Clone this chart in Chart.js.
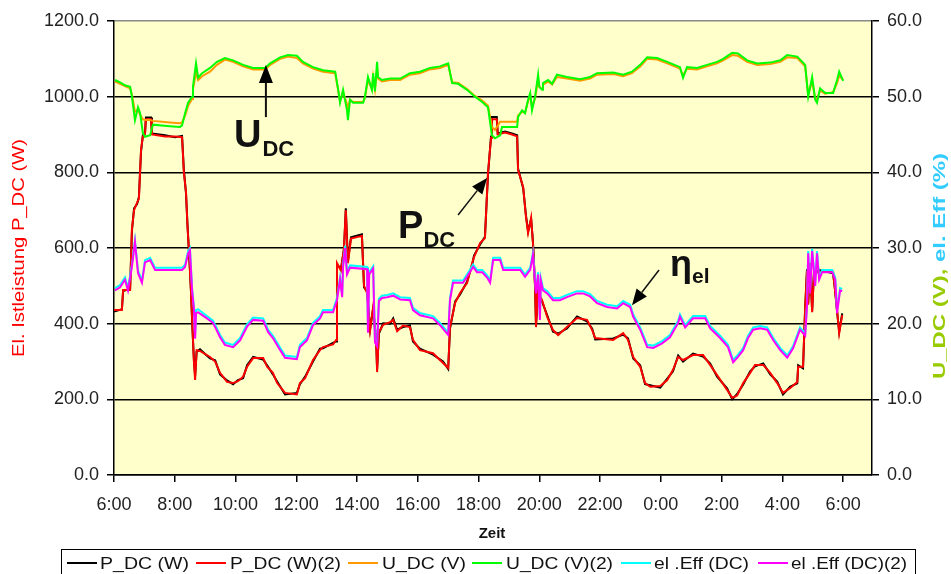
<!DOCTYPE html>
<html><head><meta charset="utf-8">
<script src="https://cdn.jsdelivr.net/npm/chart.js@4.4.0/dist/chart.umd.min.js"></script>
<style>html,body{margin:0;padding:0;background:#fff;}canvas{display:block;}</style>
</head><body>
<canvas id="c" width="951" height="574"></canvas>
<script>
// ---- time axis (hours from 6:00, 24 = midnight) ----
const xTickValues = [6, 8, 10, 12, 14, 16, 18, 20, 22, 24, 26, 28, 30];
const xTickLabels = ['6:00','8:00','10:00','12:00','14:00','16:00','18:00','20:00','22:00','0:00','2:00','4:00','6:00'];
const seriesLabels = ['P_DC (W)','P_DC (W)(2)','U_DC (V)','U_DC (V)(2)','el .Eff (DC)','el .Eff (DC)(2)'];

// ---- power series (left axis, W) ----
const tP = [6.00, 6.26, 6.30, 6.53, 6.59, 6.66, 6.76, 6.82, 6.89, 6.95,
 7.02, 7.05, 7.22, 7.25, 7.68, 8.01, 8.24, 8.30, 8.37, 8.42,
 8.47, 8.53, 8.58, 8.63, 8.67, 8.72, 8.83, 9.16, 9.33, 9.49,
 9.72, 9.92, 10.08, 10.25, 10.38, 10.58, 10.91, 11.04, 11.23, 11.37,
 11.63, 12.02, 12.12, 12.29, 12.55, 12.78, 12.88, 13.21, 13.31, 13.34,
 13.47, 13.57, 13.63, 13.70, 13.80, 14.16, 14.23, 14.33, 14.43, 14.53,
 14.63, 14.66, 14.72, 14.86, 15.09, 15.19, 15.32, 15.51, 15.74, 15.84,
 16.07, 16.50, 16.83, 17.00, 17.06, 17.23, 17.39, 17.62, 17.79, 17.85,
 18.05, 18.21, 18.31, 18.41, 18.44, 18.60, 18.63, 18.87, 19.10, 19.27,
 19.30, 19.47, 19.56, 19.63, 19.73, 19.79, 19.86, 19.89, 19.96, 20.09,
 20.26, 20.45, 20.62, 20.91, 21.24, 21.57, 21.74, 21.84, 22.43, 22.76,
 22.92, 23.09, 23.32, 23.48, 23.65, 23.98, 24.21, 24.40, 24.57, 24.73,
 25.06, 25.39, 25.62, 25.85, 26.18, 26.35, 26.51, 26.71, 26.94, 27.10,
 27.37, 27.60, 27.83, 28.02, 28.26, 28.49, 28.52, 28.68, 28.75, 28.81,
 28.85, 28.91, 28.98, 29.04, 29.24, 29.67, 29.74, 29.81, 29.87, 29.97];
const pDC = [432, 438, 486, 492, 645, 705, 716, 735, 855, 898,
 903, 945, 945, 903, 898, 893, 896, 805, 744, 660,
 586, 494, 390, 305, 262, 326, 332, 308, 303, 266,
 250, 240, 251, 256, 290, 312, 305, 290, 266, 247,
 213, 217, 240, 260, 300, 334, 335, 349, 353, 556,
 545, 596, 705, 565, 628, 636, 496, 485, 386, 440,
 354, 280, 374, 401, 400, 414, 384, 391, 395, 353,
 334, 318, 300, 280, 387, 459, 477, 511, 556, 580,
 609, 630, 794, 895, 946, 946, 903, 908, 903, 898,
 810, 757, 686, 644, 676, 617, 496, 395, 485, 458,
 422, 379, 374, 387, 419, 406, 387, 358, 361, 371,
 361, 308, 290, 240, 237, 231, 255, 274, 316, 300,
 321, 313, 295, 260, 229, 200, 214, 239, 274, 287,
 295, 266, 247, 213, 234, 242, 290, 282, 440, 544,
 454, 556, 434, 538, 541, 533, 485, 424, 379, 427];
const pDC2 = [436, 436, 489, 489, 650, 700, 720, 730, 860, 895,
 900, 940, 940, 900, 895, 895, 893, 800, 748, 655,
 590, 490, 395, 300, 251, 330, 328, 312, 300, 270,
 246, 243, 248, 260, 286, 309, 309, 286, 270, 243,
 217, 213, 243, 256, 304, 330, 338, 345, 357, 560,
 540, 600, 700, 560, 625, 632, 500, 481, 383, 444,
 350, 272, 378, 397, 404, 410, 380, 395, 391, 357,
 330, 322, 296, 283, 391, 455, 481, 507, 560, 576,
 613, 626, 798, 891, 940, 940, 900, 905, 900, 895,
 806, 761, 682, 640, 680, 613, 500, 391, 481, 462,
 418, 383, 370, 391, 415, 410, 383, 362, 357, 375,
 357, 312, 286, 243, 233, 235, 251, 278, 312, 304,
 317, 317, 291, 264, 225, 204, 210, 243, 270, 291,
 291, 270, 243, 217, 230, 246, 286, 286, 444, 540,
 450, 560, 430, 534, 537, 537, 481, 428, 375, 423];

// ---- voltage series (right axis, V) ----
const tU = [6.03, 6.20, 6.36, 6.53, 6.59, 6.69, 6.79, 6.86, 6.95, 7.02,
 7.19, 7.28, 7.84, 8.17, 8.24, 8.34, 8.44, 8.57, 8.60, 8.70,
 8.77, 8.90, 9.16, 9.39, 9.65, 9.92, 10.25, 10.58, 10.97, 11.14,
 11.47, 11.73, 12.02, 12.22, 12.55, 12.88, 13.28, 13.38, 13.44, 13.54,
 13.67, 13.70, 13.77, 13.87, 14.20, 14.26, 14.36, 14.49, 14.53, 14.59,
 14.66, 14.69, 14.82, 15.09, 15.42, 15.74, 16.07, 16.40, 16.73, 17.00,
 17.13, 17.33, 17.62, 17.88, 18.12, 18.31, 18.44, 18.54, 18.71, 18.77,
 19.27, 19.30, 19.43, 19.53, 19.63, 19.70, 19.76, 19.86, 19.96, 20.00,
 20.09, 20.12, 20.29, 20.42, 20.58, 20.91, 21.34, 21.67, 21.90, 22.43,
 22.76, 23.05, 23.32, 23.55, 23.88, 24.21, 24.63, 24.73, 24.86, 25.19,
 25.52, 25.85, 26.05, 26.35, 26.54, 26.84, 27.17, 27.60, 27.93, 28.16,
 28.49, 28.75, 28.85, 28.98, 29.08, 29.14, 29.24, 29.41, 29.67, 29.80,
 29.87, 30.00];
const uDC = [52.0, 51.7, 51.4, 51.1, 50.3, 48.0, 48.3, 47.6, 47.0, 46.9,
 46.9, 46.8, 46.6, 46.5, 46.6, 47.5, 48.8, 49.7, 51.0, 53.2,
 52.2, 52.7, 53.3, 54.2, 54.9, 54.6, 54.0, 53.6, 53.6, 54.2,
 55.0, 55.3, 55.1, 54.4, 53.7, 53.3, 53.1, 50.8, 49.4, 50.6,
 49.0, 48.5, 49.6, 49.3, 49.3, 49.9, 52.2, 51.0, 52.6, 51.0,
 53.8, 52.4, 52.0, 52.2, 52.2, 52.9, 53.1, 53.6, 53.8, 54.2,
 51.9, 51.8, 51.0, 50.1, 49.5, 48.8, 46.0, 45.6, 46.7, 46.7,
 46.7, 47.5, 48.0, 47.9, 49.4, 50.2, 48.6, 49.8, 52.3, 51.3,
 51.0, 51.6, 52.0, 51.6, 52.6, 52.4, 52.1, 52.4, 52.9, 53.0,
 52.7, 53.1, 54.0, 55.0, 54.9, 54.4, 53.7, 52.8, 53.7, 53.6,
 54.0, 54.4, 54.8, 55.5, 55.4, 54.6, 54.2, 54.3, 54.6, 55.2,
 55.1, 54.0, 50.3, 52.0, 49.8, 49.7, 50.8, 50.4, 50.6, 51.8,
 52.8, 52.2];
const uDC2 = [52.2, 51.9, 51.5, 51.3, 50.0, 46.9, 48.6, 47.8, 45.2, 44.7,
 44.9, 46.3, 46.1, 46.0, 46.2, 47.8, 49.2, 50.0, 51.3, 54.4,
 52.5, 53.1, 53.8, 54.6, 55.1, 54.8, 54.2, 53.8, 53.8, 54.4,
 55.2, 55.5, 55.4, 54.6, 53.9, 53.5, 53.3, 50.9, 49.2, 50.9,
 48.2, 46.9, 49.6, 49.2, 49.2, 50.0, 52.6, 50.9, 53.1, 50.7,
 54.6, 52.6, 52.2, 52.4, 52.4, 53.1, 53.3, 53.8, 54.0, 54.4,
 51.8, 51.7, 50.9, 50.0, 49.3, 48.6, 44.9, 44.5, 44.9, 46.0,
 46.0, 47.3, 48.2, 47.8, 49.6, 50.5, 48.2, 50.0, 52.9, 51.3,
 50.9, 51.8, 52.2, 51.7, 52.9, 52.6, 52.3, 52.6, 53.1, 53.2,
 52.9, 53.3, 54.2, 55.2, 55.1, 54.6, 53.9, 52.5, 53.9, 53.8,
 54.2, 54.6, 55.0, 55.8, 55.7, 54.8, 54.4, 54.5, 54.8, 55.5,
 55.3, 54.2, 50.0, 52.6, 49.6, 49.2, 51.1, 50.5, 50.5, 52.2,
 53.3, 52.1];

// ---- efficiency series (right axis, %) ----
const tE = [6.03, 6.20, 6.36, 6.46, 6.59, 6.69, 6.79, 6.92, 7.02, 7.19,
 7.35, 8.24, 8.34, 8.44, 8.50, 8.57, 8.63, 8.67, 8.70, 8.77,
 9.06, 9.26, 9.49, 9.65, 9.92, 10.15, 10.38, 10.58, 10.91, 11.07,
 11.23, 11.47, 11.63, 12.02, 12.12, 12.35, 12.55, 12.78, 12.88, 13.21,
 13.34, 13.44, 13.51, 13.54, 13.61, 13.67, 13.77, 14.33, 14.36, 14.40,
 14.53, 14.59, 14.66, 14.72, 14.82, 14.99, 15.19, 15.42, 15.74, 15.84,
 16.07, 16.50, 16.73, 17.00, 17.06, 17.16, 17.49, 17.62, 17.82, 17.95,
 18.12, 18.28, 18.38, 18.48, 18.71, 18.81, 19.37, 19.53, 19.70, 19.79,
 19.89, 19.96, 20.02, 20.05, 20.12, 20.26, 20.45, 20.68, 20.91, 21.24,
 21.44, 21.67, 21.90, 22.23, 22.56, 22.76, 22.99, 23.09, 23.32, 23.55,
 23.75, 24.04, 24.30, 24.57, 24.63, 24.80, 25.06, 25.46, 25.62, 25.95,
 26.21, 26.38, 26.54, 26.71, 26.87, 27.04, 27.27, 27.50, 27.70, 27.93,
 28.16, 28.35, 28.58, 28.75, 28.81, 28.85, 28.91, 28.98, 29.08, 29.14,
 29.21, 29.31, 29.64, 29.74, 29.80, 29.90, 29.97];
const eff = [24.7, 25.1, 26.1, 24.7, 27.8, 31.0, 27.0, 25.7, 28.4, 28.7,
 27.4, 27.4, 27.8, 29.6, 30.0, 24.7, 22.3, 18.5, 21.8, 21.9,
 21.0, 20.4, 18.5, 17.5, 17.2, 18.1, 19.9, 20.8, 20.7, 19.2,
 18.4, 16.8, 15.8, 15.6, 17.2, 18.1, 20.1, 21.0, 21.8, 21.8,
 23.4, 26.1, 23.8, 27.8, 30.3, 26.8, 27.7, 27.5, 19.2, 26.8,
 27.6, 17.9, 17.4, 23.3, 23.7, 23.8, 24.0, 23.5, 23.4, 22.1,
 21.4, 21.0, 20.1, 18.8, 23.4, 25.7, 25.7, 26.5, 27.8, 27.1,
 27.1, 26.4, 25.7, 28.7, 28.7, 27.4, 27.4, 26.5, 27.4, 29.4,
 24.3, 26.8, 20.9, 26.0, 24.7, 24.3, 23.4, 23.4, 23.8, 24.3,
 24.3, 23.9, 23.0, 22.5, 22.3, 23.0, 22.5, 21.2, 19.5, 17.2,
 17.1, 17.7, 18.5, 20.4, 21.2, 19.8, 21.0, 21.0, 19.7, 18.4,
 17.2, 15.2, 15.9, 16.8, 18.4, 19.5, 19.7, 19.5, 18.1, 16.8,
 15.8, 17.0, 19.5, 18.7, 22.5, 29.6, 24.3, 29.9, 25.3, 29.6,
 26.1, 27.1, 27.1, 26.1, 21.7, 24.7, 24.6];
const eff2 = [24.4, 24.8, 25.8, 24.4, 27.5, 30.8, 26.7, 25.4, 28.1, 28.4,
 27.1, 27.1, 27.5, 29.3, 29.7, 24.4, 22.0, 18.0, 21.4, 21.5,
 20.7, 20.1, 18.2, 17.2, 16.9, 17.8, 19.6, 20.5, 20.4, 18.9,
 18.1, 16.5, 15.5, 15.3, 16.9, 17.8, 19.8, 20.7, 21.5, 21.5,
 23.1, 25.8, 23.5, 27.5, 30.0, 26.5, 27.4, 27.2, 18.8, 26.5,
 27.3, 17.5, 17.0, 23.0, 23.4, 23.5, 23.7, 23.2, 23.1, 21.8,
 21.1, 20.7, 19.8, 18.5, 23.1, 25.4, 25.4, 26.2, 27.5, 26.8,
 26.8, 26.1, 25.4, 28.4, 28.4, 27.1, 27.1, 26.2, 27.1, 29.1,
 24.0, 26.5, 20.5, 25.7, 24.4, 24.0, 23.1, 23.1, 23.5, 24.0,
 24.0, 23.6, 22.7, 22.2, 22.0, 22.7, 22.2, 20.9, 19.2, 16.9,
 16.8, 17.4, 18.2, 20.1, 20.9, 19.5, 20.7, 20.7, 19.4, 18.1,
 16.9, 14.9, 15.6, 16.5, 18.1, 19.2, 19.4, 19.2, 17.8, 16.5,
 15.5, 16.7, 19.2, 18.4, 22.2, 29.3, 24.0, 29.6, 25.0, 29.3,
 25.8, 26.8, 26.8, 25.8, 21.4, 24.4, 24.3];

const FONT = '"Liberation Sans", Arial, Helvetica, sans-serif';
const COLORS = ['#000000', '#FF0000', '#FF9900', '#00FF00', '#00FFFF', '#FF00FF'];

function pts(t, v) { return t.map((x, i) => ({ x: x, y: v[i] })); }

function drawScaledText(ctx, text, x, y, targetW, align) {
  const w = ctx.measureText(text).width;
  const s = targetW / w;
  ctx.save();
  ctx.translate(x, y);
  ctx.scale(s, 1);
  ctx.textAlign = align || 'left';
  ctx.fillText(text, 0, 0);
  ctx.restore();
}

function arrow(ctx, x0, y0, x1, y1, lw, headLen, headW) {
  const ang = Math.atan2(y1 - y0, x1 - x0);
  const bx = x1 - headLen * Math.cos(ang), by = y1 - headLen * Math.sin(ang);
  ctx.save();
  ctx.strokeStyle = '#111'; ctx.fillStyle = '#000'; ctx.lineWidth = lw;
  ctx.beginPath(); ctx.moveTo(x0, y0); ctx.lineTo(bx, by); ctx.stroke();
  const nx = -Math.sin(ang) * headW / 2, ny = Math.cos(ang) * headW / 2;
  ctx.beginPath(); ctx.moveTo(x1, y1); ctx.lineTo(bx + nx, by + ny); ctx.lineTo(bx - nx, by - ny); ctx.closePath(); ctx.fill();
  ctx.restore();
}

const decor = {
  id: 'decor',
  beforeDraw(chart) {
    const { ctx, chartArea: a } = chart;
    ctx.save();
    ctx.fillStyle = '#FFFFCC';
    ctx.fillRect(a.left, a.top, a.right - a.left, a.bottom - a.top);
    ctx.restore();
  },
  afterDraw(chart) {
    const ctx = chart.ctx;
    const X = chart.scales.x, YL = chart.scales.yL;
    // left axis title
    ctx.save();
    ctx.translate(19, 248); ctx.rotate(-Math.PI / 2);
    ctx.font = '17px ' + FONT; ctx.fillStyle = '#FF0000'; ctx.textBaseline = 'middle';
    drawScaledText(ctx, 'El. Istleistung P_DC (W)', 0, 0, 218, 'center');
    ctx.restore();
    // right axis title (two colours)
    ctx.save();
    ctx.translate(941, 266); ctx.rotate(-Math.PI / 2);
    ctx.font = 'bold 16px ' + FONT; ctx.textBaseline = 'middle';
    const p1 = 'U_DC (V),', p2 = ' el. Eff (%)';
    const w1 = ctx.measureText(p1).width, w2 = ctx.measureText(p2).width;
    const s = 226 / (w1 + w2);
    ctx.scale(s, 1);
    ctx.textAlign = 'left';
    ctx.fillStyle = '#99CC00'; ctx.fillText(p1, -(w1 + w2) / 2, 0);
    ctx.fillStyle = '#33CCFF'; ctx.fillText(p2, -(w1 + w2) / 2 + w1, 0);
    ctx.restore();
    // x axis title
    ctx.save();
    ctx.font = 'bold 15px ' + FONT; ctx.fillStyle = '#111'; ctx.textAlign = 'center'; ctx.textBaseline = 'alphabetic';
    ctx.fillText('Zeit', 492, 538);
    ctx.restore();

    // annotations
    ctx.save();
    ctx.fillStyle = '#111'; ctx.textBaseline = 'alphabetic'; ctx.textAlign = 'left';
    // U_DC
    const ux = X.getPixelForValue(11.0);
    arrow(ctx, ux, YL.getPixelForValue(946), ux, YL.getPixelForValue(1084), 2, 18, 14);
    let tx = X.getPixelForValue(9.95);
    ctx.font = 'bold 38px ' + FONT; ctx.fillText('U', tx, YL.getPixelForValue(867));
    tx += ctx.measureText('U').width + 1;
    ctx.font = 'bold 22px ' + FONT; ctx.fillText('DC', tx, YL.getPixelForValue(843));
    // P_DC
    arrow(ctx, X.getPixelForValue(17.325), YL.getPixelForValue(687), X.getPixelForValue(18.28), YL.getPixelForValue(785), 1.5, 16, 13);
    tx = X.getPixelForValue(15.35);
    ctx.font = 'bold 38px ' + FONT; ctx.fillText('P', tx, YL.getPixelForValue(626));
    tx += ctx.measureText('P').width;
    ctx.font = 'bold 22px ' + FONT; ctx.fillText('DC', tx, YL.getPixelForValue(603));
    // eta_el
    arrow(ctx, X.getPixelForValue(23.94), YL.getPixelForValue(542), X.getPixelForValue(23.05), YL.getPixelForValue(449), 1.5, 16, 13);
    tx = X.getPixelForValue(24.30);
    ctx.font = 'bold 36px ' + FONT; ctx.fillText('\u03B7', tx, YL.getPixelForValue(526));
    tx += ctx.measureText('\u03B7').width;
    ctx.font = 'bold 21px ' + FONT; ctx.fillText('el', tx, YL.getPixelForValue(507));
    ctx.restore();

    // legend box
    ctx.save();
    ctx.strokeStyle = '#000'; ctx.lineWidth = 1;
    ctx.strokeRect(61.5, 549.5, 854, 40);
    const lineX = [67, 196, 348, 472, 621, 758];
    const textX = [100, 230, 382, 506, 654, 791];
    const textW = [89, 111, 84, 107, 95, 116];
    ctx.font = '16px ' + FONT; ctx.textBaseline = 'alphabetic'; ctx.fillStyle = '#111';
    chart.data.datasets.forEach((ds, i) => {
      ctx.strokeStyle = ds.borderColor; ctx.lineWidth = 2;
      ctx.beginPath(); ctx.moveTo(lineX[i], 563); ctx.lineTo(lineX[i] + 30, 563); ctx.stroke();
      ctx.fillStyle = '#111';
      drawScaledText(ctx, ds.label, textX[i], 569, textW[i], 'left');
    });
    ctx.restore();
  }
};

const tickFont = { family: FONT, size: 18 };

new Chart(document.getElementById('c').getContext('2d'), {
  type: 'line',
  data: {
    datasets: [
      { label: seriesLabels[0], data: pts(tP, pDC), borderColor: COLORS[0], yAxisID: 'yL', order: 6 },
      { label: seriesLabels[1], data: pts(tP, pDC2), borderColor: COLORS[1], yAxisID: 'yL', order: 5 },
      { label: seriesLabels[2], data: pts(tU, uDC), borderColor: COLORS[2], yAxisID: 'yR', order: 4 },
      { label: seriesLabels[3], data: pts(tU, uDC2), borderColor: COLORS[3], yAxisID: 'yR', order: 3 },
      { label: seriesLabels[4], data: pts(tE, eff), borderColor: COLORS[4], yAxisID: 'yR', order: 2 },
      { label: seriesLabels[5], data: pts(tE, eff2), borderColor: COLORS[5], yAxisID: 'yR', order: 1 }
    ]
  },
  options: {
    responsive: false, animation: false, devicePixelRatio: 1,
    layout: { padding: { top: 21, left: 0, right: 0, bottom: 0 } },
    plugins: { legend: { display: false }, tooltip: { enabled: false } },
    elements: { line: { borderWidth: 2, tension: 0, fill: false }, point: { radius: 0 } },
    scales: {
      x: {
        type: 'linear', min: 6, max: 30.95,
        afterBuildTicks(s) { s.ticks = xTickValues.map(v => ({ value: v })); },
        afterFit(s) { s.height = 99; },
        ticks: {
          autoSkip: false, maxRotation: 0, padding: 12, color: '#222', font: tickFont,
          callback(v) { const i = xTickValues.indexOf(v); return i >= 0 ? xTickLabels[i] : ''; }
        },
        grid: { drawOnChartArea: false, color: '#000', tickLength: 7, lineWidth: 1.5 },
        border: { color: '#000', width: 1.5 }
      },
      yL: {
        position: 'left', min: 0, max: 1200,
        afterFit(s) { s.width = 114; },
        ticks: { stepSize: 200, padding: 8, color: '#222', font: tickFont, callback: v => v.toFixed(1) },
        grid: {
          color: c => (c.tick && c.tick.value === 1200) ? '#8a8a8a' : '#000',
          tickColor: '#000', tickLength: 7, lineWidth: 1.5
        },
        border: { color: '#000', width: 1.5 }
      },
      yR: {
        position: 'right', min: 0, max: 60,
        afterFit(s) { s.width = 79; },
        ticks: { stepSize: 10, padding: 8, color: '#222', font: tickFont, callback: v => v.toFixed(1) },
        grid: { drawOnChartArea: false, color: '#000', tickLength: 7, lineWidth: 1.5 },
        border: { color: '#000', width: 1.5 }
      }
    }
  },
  plugins: [decor]
});
</script>
</body></html>
